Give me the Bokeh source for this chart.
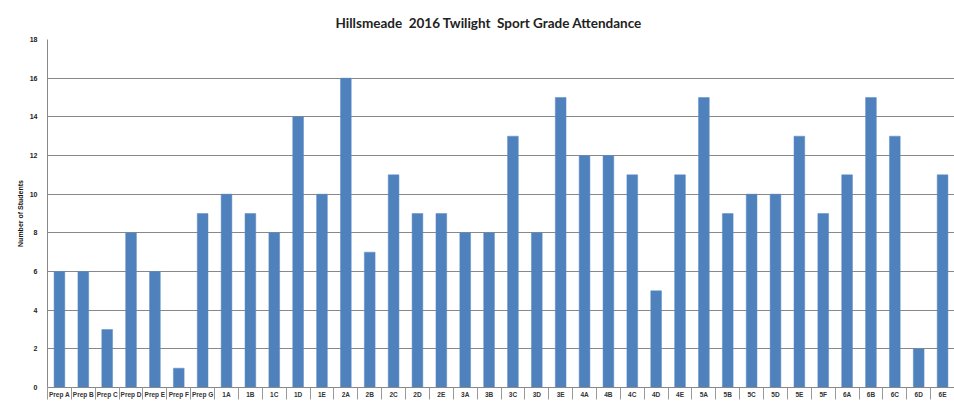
from bokeh.plotting import figure
from bokeh.models import Range1d, FixedTicker, ColumnDataSource, Title
from bokeh.embed import file_html
from bokeh.resources import INLINE

classes = ["Prep A", "Prep B", "Prep C", "Prep D", "Prep E", "Prep F", "Prep G",
           "1A", "1B", "1C", "1D", "1E",
           "2A", "2B", "2C", "2D", "2E",
           "3A", "3B", "3C", "3D", "3E",
           "4A", "4B", "4C", "4D", "4E",
           "5A", "5B", "5C", "5D", "5E", "5F",
           "6A", "6B", "6C", "6D", "6E"]
students = [6, 6, 3, 8, 6, 1, 9,
            10, 9, 8, 14, 10,
            16, 7, 11, 9, 9,
            8, 8, 13, 8, 15,
            12, 12, 11, 5, 11,
            15, 9, 10, 10, 13, 9,
            11, 15, 13, 2, 11]
y_ticks = [0, 2, 4, 6, 8, 10, 12, 14, 16, 18]

n = len(classes)
idx = list(range(n))
src = ColumnDataSource(dict(x=idx, top=students, name=classes))

p = figure(width=954, height=405, output_backend="svg", toolbar_location=None,
           x_range=Range1d(-0.5, n - 0.5), y_range=Range1d(0, 18),
           min_border_left=47, min_border_right=0, min_border_top=39, min_border_bottom=18)
p.title = Title(text="Hillsmeade\u00a0 2016 Twilight\u00a0 Sport Grade Attendance", align="left",
                offset=288,
                text_font="Lato", text_font_size="13.5px", text_font_style="bold",
                text_color="#222222", standoff=17)
p.title_location = "above"

p.vbar(x="x", top="top", width=0.45, bottom=0, source=src,
       fill_color="#4F81BD", line_color="#5B8CC6", line_width=0.5)

p.outline_line_color = None
p.background_fill_color = "white"
p.border_fill_color = "white"

# y axis
p.yaxis.ticker = FixedTicker(ticks=y_ticks)
p.yaxis.axis_line_color = "#888888"
p.yaxis.major_tick_out = 0
p.yaxis.major_tick_in = 0
p.yaxis.minor_tick_out = 0
p.yaxis.minor_tick_in = 0
p.yaxis.major_label_text_font = "Liberation Sans"
p.yaxis.major_label_text_font_size = "7px"
p.yaxis.major_label_text_font_style = "bold"
p.yaxis.major_label_text_color = "#222222"
p.yaxis.major_label_standoff = 10
p.yaxis.axis_label = "Number of Students"
p.yaxis.axis_label_text_font = "Liberation Sans"
p.yaxis.axis_label_text_font_size = "7px"
p.yaxis.axis_label_text_font_style = "bold"
p.yaxis.axis_label_text_color = "#111111"
p.yaxis.axis_label_standoff = 3

# x axis
p.xaxis.ticker = FixedTicker(ticks=idx, minor_ticks=[i - 0.5 for i in range(n + 1)])
p.xaxis.major_label_overrides = {i: c for i, c in zip(idx, classes)}
p.xaxis.axis_line_color = "#888888"
p.xaxis.major_tick_out = 0
p.xaxis.major_tick_in = 0
p.xaxis.minor_tick_out = 12
p.xaxis.minor_tick_in = 0
p.xaxis.minor_tick_line_color = "#999999"
p.xaxis.major_label_text_font = "Liberation Sans"
p.xaxis.major_label_text_font_size = "6.5px"
p.xaxis.major_label_text_font_style = "bold"
p.xaxis.major_label_text_color = "#333333"
p.xaxis.major_label_standoff = -9

p.xgrid.grid_line_color = None
p.ygrid.ticker = FixedTicker(ticks=y_ticks)
p.ygrid.grid_line_color = "#888888"
p.ygrid.grid_line_width = 1

open("out.html", "w").write(file_html(p, INLINE))
